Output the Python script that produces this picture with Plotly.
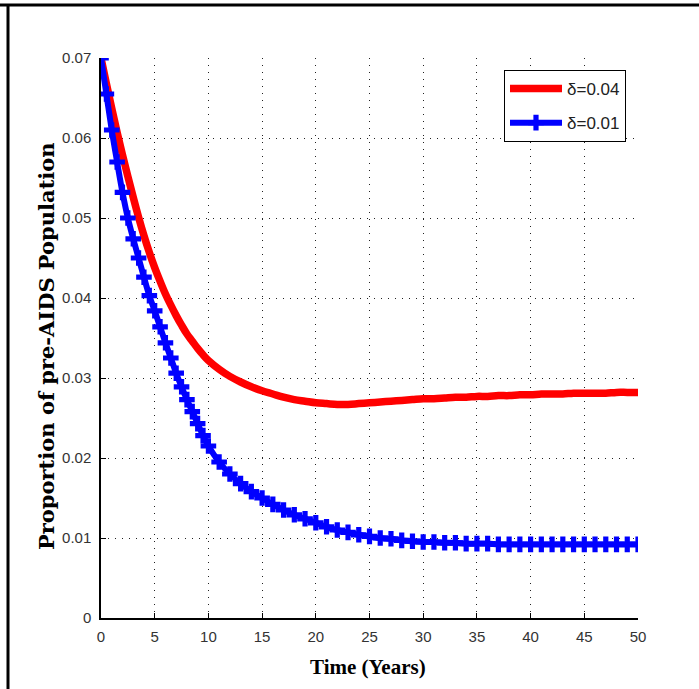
import plotly.graph_objects as go

# Time (years)
t_early = [0, 0.5, 1, 1.5, 2, 2.5, 3, 3.5, 4, 4.5, 5, 5.5, 6, 6.5, 7, 7.5, 8, 8.5, 9, 9.5]
t_late = list(range(10, 51))
time = t_early + t_late

# delta = 0.04 (red)
red_early = [0.0700, 0.0668, 0.0637, 0.0607, 0.0579, 0.0552, 0.0526, 0.0501, 0.0478, 0.0457,
             0.0438, 0.0421, 0.0405, 0.0391, 0.0378, 0.0366, 0.0355, 0.0346, 0.0337, 0.0329]
red_late = [0.0322, 0.0311, 0.0302, 0.0295, 0.0289, 0.0284, 0.0280, 0.0276, 0.0273, 0.0271,
            0.0269, 0.0268, 0.0267, 0.0267, 0.0268, 0.0269, 0.0270, 0.0271, 0.0272, 0.0273,
            0.0274, 0.0274, 0.0275, 0.0276, 0.0276, 0.0277, 0.0277, 0.0278, 0.0278, 0.0279,
            0.0279, 0.0280, 0.0280, 0.0280, 0.0281, 0.0281, 0.0281, 0.0281, 0.0282, 0.0282,
            0.0282]
red = red_early + red_late

# delta = 0.01 (blue)
blue_early = [0.0700, 0.0655, 0.0610, 0.0570, 0.0532, 0.0500, 0.0474, 0.0450, 0.0426, 0.0403,
              0.0384, 0.0364, 0.0344, 0.0325, 0.0306, 0.0289, 0.0273, 0.0258, 0.0243, 0.0228]
blue_late = [0.0215, 0.0195, 0.0180, 0.0168, 0.0158, 0.0150, 0.0142, 0.0135, 0.0129, 0.0124,
             0.0119, 0.0114, 0.0110, 0.0107, 0.0104, 0.0102, 0.0100, 0.0099, 0.0097, 0.0096,
             0.0095, 0.0095, 0.0094, 0.0094, 0.0093, 0.0093, 0.0093, 0.0092, 0.0092, 0.0092,
             0.0092, 0.0092, 0.0092, 0.0092, 0.0092, 0.0092, 0.0092, 0.0092, 0.0092, 0.0092,
             0.0092]
blue = blue_early + blue_late

x_ticks = [0, 5, 10, 15, 20, 25, 30, 35, 40, 45, 50]
y_ticks = [0, 0.01, 0.02, 0.03, 0.04, 0.05, 0.06, 0.07]
y_labels = ["0", "0.01", "0.02", "0.03", "0.04", "0.05", "0.06", "0.07"]
x_title = "Time (Years)"
y_title = "Proportion of pre-AIDS Population"

W, H = 699, 689
ML, MR, MT, MB = 101, 61, 58, 71
PW, PH = W - ML - MR, H - MT - MB

TICK_FONT = "Liberation Sans, Arial, sans-serif"

fig = go.Figure()
fig.add_trace(go.Scatter(x=time, y=red, mode="lines", name="δ=0.04", legendgroup="a",
                         line=dict(color="#ff0000", width=7.5, shape="spline", smoothing=1.0,
                                   simplify=False)))
fig.add_trace(go.Scatter(x=time, y=blue, mode="lines+markers", name="δ=0.01", legendgroup="b",
                         line=dict(color="#0000ff", width=6, shape="spline", smoothing=1.0,
                                   simplify=False),
                         marker=dict(symbol="cross", size=13, color="#0000ff")))

def px_x(p):
    return (p - ML) / PW

def px_y(p):
    return (H - MB - p) / PH

grid = dict(showgrid=True, gridcolor="#222222", gridwidth=1, griddash="1px,6px")

fig.update_layout(
    width=W, height=H,
    margin=dict(l=ML, r=MR, t=MT, b=MB, pad=0),
    paper_bgcolor="white", plot_bgcolor="white",
    font=dict(family=TICK_FONT, size=15, color="#333333"),
    showlegend=True,
    legend=dict(x=px_x(504), y=px_y(70), xanchor="left", yanchor="top",
                bordercolor="black", borderwidth=1, bgcolor="white",
                font=dict(size=17, family=TICK_FONT, color="#222"),
                itemwidth=52, tracegroupgap=9, traceorder="grouped"),
    xaxis=dict(range=[0, 50], tickvals=x_ticks, ticktext=[str(v) for v in x_ticks],
               showline=True, linecolor="black", linewidth=1.5, mirror=False,
               ticks="inside", ticklen=5, tickcolor="black", zeroline=False,
               ticklabelstandoff=4, **grid),
    yaxis=dict(range=[0, 0.07], tickvals=y_ticks, ticktext=y_labels,
               showline=True, linecolor="black", linewidth=1.5, mirror=False,
               ticks="inside", ticklen=5, tickcolor="black", zeroline=False,
               ticklabelstandoff=5, **grid),
)

fig.add_annotation(text="<b>" + x_title + "</b>", xref="paper", yref="paper",
                   x=px_x(368), y=px_y(667), xanchor="center", yanchor="middle",
                   showarrow=False,
                   font=dict(family="Liberation Serif, Times New Roman, serif", size=21, color="black"))
fig.add_annotation(text="<b>" + y_title + "</b>", xref="paper", yref="paper",
                   x=px_x(46), y=px_y(346), xanchor="center", yanchor="middle",
                   textangle=-90, showarrow=False,
                   font=dict(family="DejaVu Serif", size=21, color="black"))

# outer frame lines (top and left)
fig.add_shape(type="line", xref="paper", yref="paper", x0=px_x(0), x1=px_x(W), y0=px_y(5), y1=px_y(5),
              line=dict(color="black", width=3))
fig.add_shape(type="line", xref="paper", yref="paper", x0=px_x(8), x1=px_x(8), y0=px_y(5), y1=px_y(H),
              line=dict(color="black", width=3))

fig.write_html("out.html")
